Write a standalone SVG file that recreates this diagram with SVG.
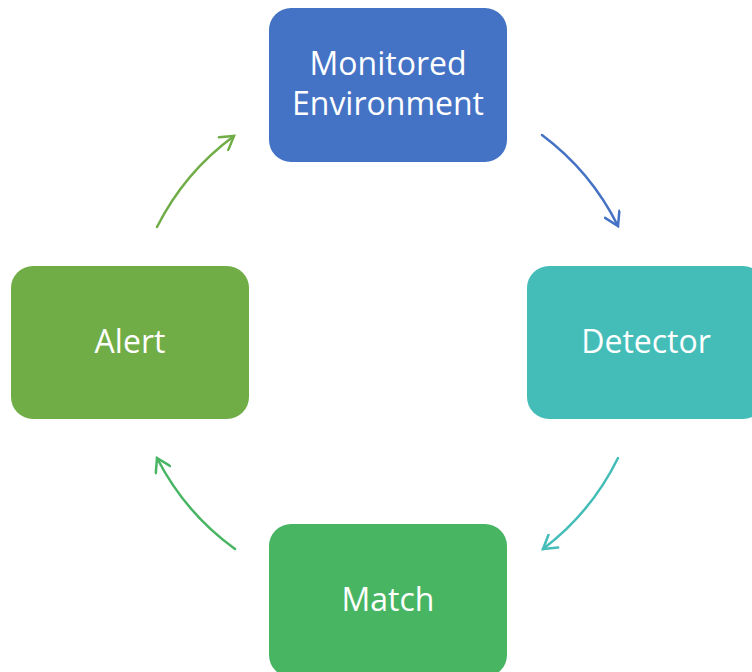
<svg xmlns="http://www.w3.org/2000/svg" width="752" height="672" viewBox="0 0 752 672">
<style>
.lbl{font-family:"Open Sans","Noto Sans",sans-serif;font-size:32px;fill:#ffffff;text-anchor:middle}
.c{fill:none;stroke-width:2.5;stroke-linecap:round}
</style>
<defs>
<marker id="mB" viewBox="0 0 18 18" refX="15" refY="9" markerWidth="18" markerHeight="18" markerUnits="userSpaceOnUse" orient="auto"><path d="M2,1 L15,9 L2,17" fill="none" stroke="#4472C4" stroke-width="2.5" stroke-linecap="round"/></marker>
<marker id="mT" viewBox="0 0 18 18" refX="15" refY="9" markerWidth="18" markerHeight="18" markerUnits="userSpaceOnUse" orient="auto"><path d="M2,1 L15,9 L2,17" fill="none" stroke="#44BDB9" stroke-width="2.5" stroke-linecap="round"/></marker>
<marker id="mG" viewBox="0 0 18 18" refX="15" refY="9" markerWidth="18" markerHeight="18" markerUnits="userSpaceOnUse" orient="auto"><path d="M2,1 L15,9 L2,17" fill="none" stroke="#48B563" stroke-width="2.5" stroke-linecap="round"/></marker>
<marker id="mL" viewBox="0 0 18 18" refX="15" refY="9" markerWidth="18" markerHeight="18" markerUnits="userSpaceOnUse" orient="auto"><path d="M2,1 L15,9 L2,17" fill="none" stroke="#70AD47" stroke-width="2.5" stroke-linecap="round"/></marker>
</defs>
<rect width="752" height="672" fill="#ffffff"/>
<g id="connectors">
<path class="c" stroke="#4472C4" d="M542,135 A256,256 0 0 1 618,226" marker-end="url(#mB)"/>
<path class="c" stroke="#44BDB9" d="M618,458 A256,256 0 0 1 543,549" marker-end="url(#mT)"/>
<path class="c" stroke="#48B563" d="M235,549 A256,256 0 0 1 157,458" marker-end="url(#mG)"/>
<path class="c" stroke="#70AD47" d="M157,227 A256,256 0 0 1 234,136" marker-end="url(#mL)"/>
</g>
<g id="monitored">
<rect x="269" y="8" width="238" height="154" rx="22" fill="#4472C4"/>
<text class="lbl" x="388" y="75">Monitored</text>
<text class="lbl" x="388" y="115">Environment</text>
</g>
<g id="detector">
<rect x="527" y="266" width="238" height="153" rx="22" fill="#44BDB9"/>
<text class="lbl" x="646" y="353">Detector</text>
</g>
<g id="match">
<rect x="269" y="524" width="238" height="153" rx="22" fill="#48B563"/>
<text class="lbl" x="388" y="611">Match</text>
</g>
<g id="alert">
<rect x="11" y="266" width="238" height="153" rx="22" fill="#70AD47"/>
<text class="lbl" x="130" y="353">Alert</text>
</g>
</svg>
